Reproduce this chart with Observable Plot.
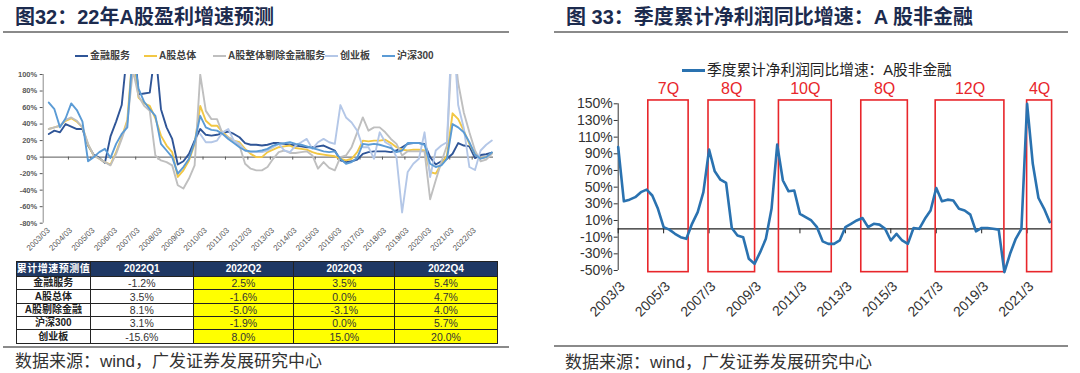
<!DOCTYPE html>
<html><head><meta charset="utf-8">
<script src="https://cdn.jsdelivr.net/npm/d3@7"></script>
<script src="https://cdn.jsdelivr.net/npm/@observablehq/plot@0.6"></script>
<style>
body{margin:0;background:#fff;}
#root{position:relative;width:1080px;height:373px;overflow:hidden;font-family:"Liberation Sans","Noto Sans CJK SC",sans-serif;background:#fff;}
.abs{position:absolute;}
.title{font-size:20px;font-weight:bold;color:#1c2b4e;white-space:nowrap;line-height:20px;}
.hr{height:2px;background:#8a8a8a;}
.src{font-size:17px;color:#333;white-space:nowrap;line-height:17px;}
.lg{font-size:10px;font-weight:bold;color:#404040;white-space:nowrap;line-height:10px;display:flex;align-items:center;}
.lg i{display:inline-block;width:13px;height:2px;margin-right:2px;}
table{border-collapse:collapse;table-layout:fixed;}
td{border:1px solid #222;padding:0;text-align:center;line-height:12px;overflow:hidden;white-space:nowrap;}
td.h{background:#1f3864;color:#fff;font-weight:bold;font-size:10px;height:14px;}
td.n{font-weight:bold;font-size:10px;color:#222;height:12.35px;}
td.v{font-size:10.5px;color:#333;}
td.y{background:#ffff00;}
</style></head>
<body><div id="root"></div>
<script>
// ---------------- data ----------------
const leftTitle = "图32：22年A股盈利增速预测";
const rightTitle = "图 33：季度累计净利润同比增速：A 股非金融";
const sourceText = "数据来源：wind，广发证券发展研究中心";

const seriesNames = ["金融服务", "A股总体", "A股整体剔除金融服务", "创业板", "沪深300"];
const seriesColors = ["#2f5597", "#f2c744", "#bfbfbf", "#b4c7e7", "#5b9bd5"];

// quarterly, 2003Q1 .. 2022Q4 (2022 = forecast)
const finSeries = [28,32,30,40,37,34,34,14,3,-1, -7,25,43,63,130,160,76,77,78,130,
  58,36,22,-9,-5,4,20,34,27,26, 27,29,31,28,24,17,15,15,14,15,
  17,17,16,15,14,13,12,12,13,14, 11,8,-4,-6,-5,-3,4,6,7,7,
  7,6,8,12,16,17,17,16,0,-9, -5,-2,4,17,14,13,-1.2,2.5,3.5,5.4];
const totalSeries = [34,36,38,44,47,43,36,15,2,-2, -6,-9,6,24,45,130,72,65,62,47,
  26,14,6,-24,-16,-4,16,62,44,38, 38,30,24,20,18,10,4,0,0,6,
  9,12,13,14,11,10,9,6,4,3, 2,1,-2,-4,-2,6,20,19,20,20,
  21,17,12,9,8,9,9,8,-18,-20, -8,2,53,46,32,16,3.5,-1.6,0,4.7];
const exFinSeries = [34,36,38,45,48,44,36,16,2,-2, -6,-10,4,22,42,105,74,62,56,2,
  -4,-6,-10,-34,-38,-26,-10,100,56,46, 46,28,24,20,14,-8,-14,-16,-16,-12,
  -2,6,8,5,5,6,7,2,-14,-6, -13,-16,0,2,12,30,48,32,36,36,
  30,22,16,2,7,7,7,7,-51,-28, -6,14,150,90,54,30,8.1,-5.0,-3.1,4.0];
const gemSeries = [null,null,null,null,null,null,null,null,null,null,
  null,null,null,null,null,null,null,null,null,null,
  null,null,null,null,null,null,null,28,18,18,
  20,30,34,20,16,8,6,6,6,8, 12,16,8,6,14,18,22,10,18,22,
  18,16,63,48,42,32,12,12,-2,30, 18,14,0,-67,-18,-8,-2,30,-24,8,
  14,18,170,63,35,-12,-15.6,8.0,15.0,20.0];
const hs300Series = [66,58,36,47,65,57,43,-5,0,6, 10,-1,16,28,36,130,83,67,58,50,
  16,8,0,-20,-12,-2,18,50,36,33, 32,28,22,17,12,8,7,7,8,10,
  14,16,17,18,16,15,13,11,9,7, 6,7,-2,-8,-6,-1,16,15,16,15,
  13,11,6,8,17,17,17,15,-8,-12, -10,-2,40,36,30,18,3.1,-1.9,0,5.7];
const leftTickLabels = ["2003/03","2004/03","2005/03","2006/03","2007/03","2008/03","2009/03","2010/03","2011/03","2012/03",
  "2013/03","2014/03","2015/03","2016/03","2017/03","2018/03","2019/03","2020/03","2021/03","2022/03"];
const leftYTicks = [-80,-60,-40,-20,0,20,40,60,80,100];

// table
const tableHeader = ["累计增速预测值", "2022Q1", "2022Q2", "2022Q3", "2022Q4"];
const tableRowNames = ["金融服务", "A股总体", "A股剔除金融", "沪深300", "创业板"];
const tableRowValues = [
  ["-1.2%", "2.5%", "3.5%", "5.4%"],
  ["3.5%", "-1.6%", "0.0%", "4.7%"],
  ["8.1%", "-5.0%", "-3.1%", "4.0%"],
  ["3.1%", "-1.9%", "0.0%", "5.7%"],
  ["-15.6%", "8.0%", "15.0%", "20.0%"]
];

// right chart: quarterly 2003Q1 .. 2022Q1
const rightSeriesName = "季度累计净利润同比增速：A股非金融";
const rightSeries = [98,33,35,38,44,47,40,24,2,-1, -6,-10,-12,6,20,44,95,69,59,55,
  1,-8,-10,-36,-42,-28,-12,24,101,58, 45,46,18,14,10,2,-15,-18,-18,-14,
  2,6,10,13,2,6,5,0,-14,-6, -14,-18,1,0,12,22,49,33,35,34,
  24,22,17,-3,1,1,0,-1,-52,-30, -12,0,150,78,37,24,8];
const rightTickLabels = ["2003/3","2005/3","2007/3","2009/3","2011/3","2013/3","2015/3","2017/3","2019/3","2021/3"];
const rightYTicks = [-50,-30,-10,10,30,50,70,90,110,130,150];
const boxStart = [5.3, 15.9, 28.3, 42.8, 55.9, 72.0];
const boxEnd   = [12.4, 24.1, 37.6, 51.0, 68.0, 76.4];
const boxLabel = ["7Q", "8Q", "10Q", "8Q", "12Q", "4Q"];
const boxTop = 154, boxBottom = -52;

// ---------------- layout ----------------
const root = document.getElementById("root");
function add(html, style, cls) {
  const d = document.createElement("div");
  d.className = "abs " + (cls || "");
  d.style.cssText = style;
  d.innerHTML = html;
  root.appendChild(d);
  return d;
}
add(leftTitle, "left:15px;top:7px;", "title");
add(rightTitle, "left:566px;top:7px;", "title");
add("", "left:3px;top:31px;width:506px;", "hr");
add("", "left:554px;top:31px;width:514px;", "hr");
add("", "left:3px;top:346px;width:506px;", "hr");
add("", "left:554px;top:345px;width:514px;", "hr");
add(sourceText, "left:15px;top:353px;", "src");
add(sourceText, "left:565px;top:354px;", "src");

// left legend
const lgX = [75, 144, 213, 325, 382];
seriesNames.forEach((n, i) => {
  add(`<i style="background:${seriesColors[i]}"></i>${n}`, `left:${lgX[i]}px;top:50.5px;height:10px;`, "lg");
});
// right legend
add(`<i style="display:inline-block;width:23px;height:3px;background:#2a72b0;margin-right:2px"></i>${rightSeriesName}`,
  "left:682px;top:62px;font-size:14.7px;color:#222;display:flex;align-items:center;white-space:nowrap;line-height:16px;");

// ---------------- left chart ----------------
const allLeft = [finSeries, totalSeries, exFinSeries, gemSeries, hs300Series];
const qIdx = d3.range(80);
const leftTickPos = d3.range(3.5, 79, 4);
const leftChart = Plot.plot({
  width: 510, height: 200,
  marginTop: 12, marginBottom: 39.3, marginLeft: 42.7, marginRight: 17,
  x: {domain: [-1, 79.3], axis: null},
  y: {domain: [-80, 100], axis: null},
  style: {fontFamily: "Liberation Sans, Arial, sans-serif", fontSize: "7.5px", color: "#595959", background: "transparent", overflow: "visible"},
  marks: [
    Plot.axisY(leftYTicks, {tickFormat: d => d + "%", tickSize: 3, tickPadding: 3, fontSize: 7.5, fontWeight: "bold"}),
    Plot.ruleX([-1], {y1: -80, y2: 100, stroke: "#8c8c8c"}),
    Plot.ruleY([0], {stroke: "#595959", strokeWidth: 1}),
    Plot.ruleX(leftTickPos, {y1: 0, y2: -3.6, stroke: "#595959"}),
    ...allLeft.map((s, k) => Plot.line(qIdx, {x: i => i, y: i => s[i], stroke: seriesColors[k], strokeWidth: 1.9, clip: true})),
    Plot.text(leftTickLabels, {x: (d, i) => i * 4, frameAnchor: "bottom", rotate: -45, textAnchor: "end", dx: 1.5, dy: 7.6, fontSize: 8, fill: "#595959"})
  ]
});
const lw = add("", "left:0px;top:62px;width:510px;height:200px;");
lw.appendChild(leftChart);

// table
let t = `<table style="width:481px"><colgroup><col style="width:74.3px"><col style="width:102.7px"><col style="width:100.6px"><col style="width:101px"><col style="width:102.4px"></colgroup>`;
t += "<tr>" + tableHeader.map((h, i) => `<td class="h" style="${i === 0 ? 'letter-spacing:0.5px' : ''}">${h}</td>`).join("") + "</tr>";
tableRowNames.forEach((n, r) => {
  t += `<tr><td class="n">${n}</td>` + tableRowValues[r].map((v, c) => `<td class="v${c > 0 ? ' y' : ''}">${v}</td>`).join("") + "</tr>";
});
t += "</table>";
add(t, "left:15.7px;top:261px;");

// ---------------- right chart ----------------
const rIdx = d3.range(rightSeries.length);
const bIdx = d3.range(boxLabel.length);
const rightTickPos = d3.range(0, 77, 8);
const rightChart = Plot.plot({
  width: 530, height: 242,
  marginTop: 25.3, marginBottom: 50, marginLeft: 67.7, marginRight: 28.4,
  x: {domain: [0, 76.4], axis: null},
  y: {domain: [-50, 150], axis: null},
  style: {fontFamily: "Liberation Sans, Arial, sans-serif", fontSize: "14px", color: "#333", background: "transparent", overflow: "visible"},
  marks: [
    Plot.axisY(rightYTicks, {tickFormat: d => d + "%", tickSize: 4, tickPadding: 1.5, fontSize: 14}),
    Plot.ruleX([0], {y1: -50, y2: 150, stroke: "#333"}),
    Plot.ruleY([0], {stroke: "#222", strokeWidth: 1.3}),
    Plot.ruleX(rightTickPos, {y1: 0, y2: -6, stroke: "#222"}),
    Plot.rect(bIdx, {x1: i => boxStart[i], x2: i => boxEnd[i], y1: () => boxBottom, y2: () => boxTop, fill: "none", stroke: "#e8262b", strokeWidth: 1.6}),
    Plot.text(bIdx, {x: i => (boxStart[i] + boxEnd[i]) / 2, y: () => boxTop, text: i => boxLabel[i], dy: -11.5, fill: "#e8262b", fontSize: 16}),
    Plot.line(rIdx, {x: i => i, y: i => rightSeries[i], stroke: "#2a72b0", strokeWidth: 2.6}),
    Plot.text(rightTickLabels, {x: (d, i) => i * 8, frameAnchor: "bottom", rotate: -45, textAnchor: "end", dx: 7.5, dy: 16.8, fontSize: 14, fill: "#333"})
  ]
});
const rw = add("", "left:550px;top:78px;width:530px;height:242px;");
rw.appendChild(rightChart);
</script>
</body></html>
